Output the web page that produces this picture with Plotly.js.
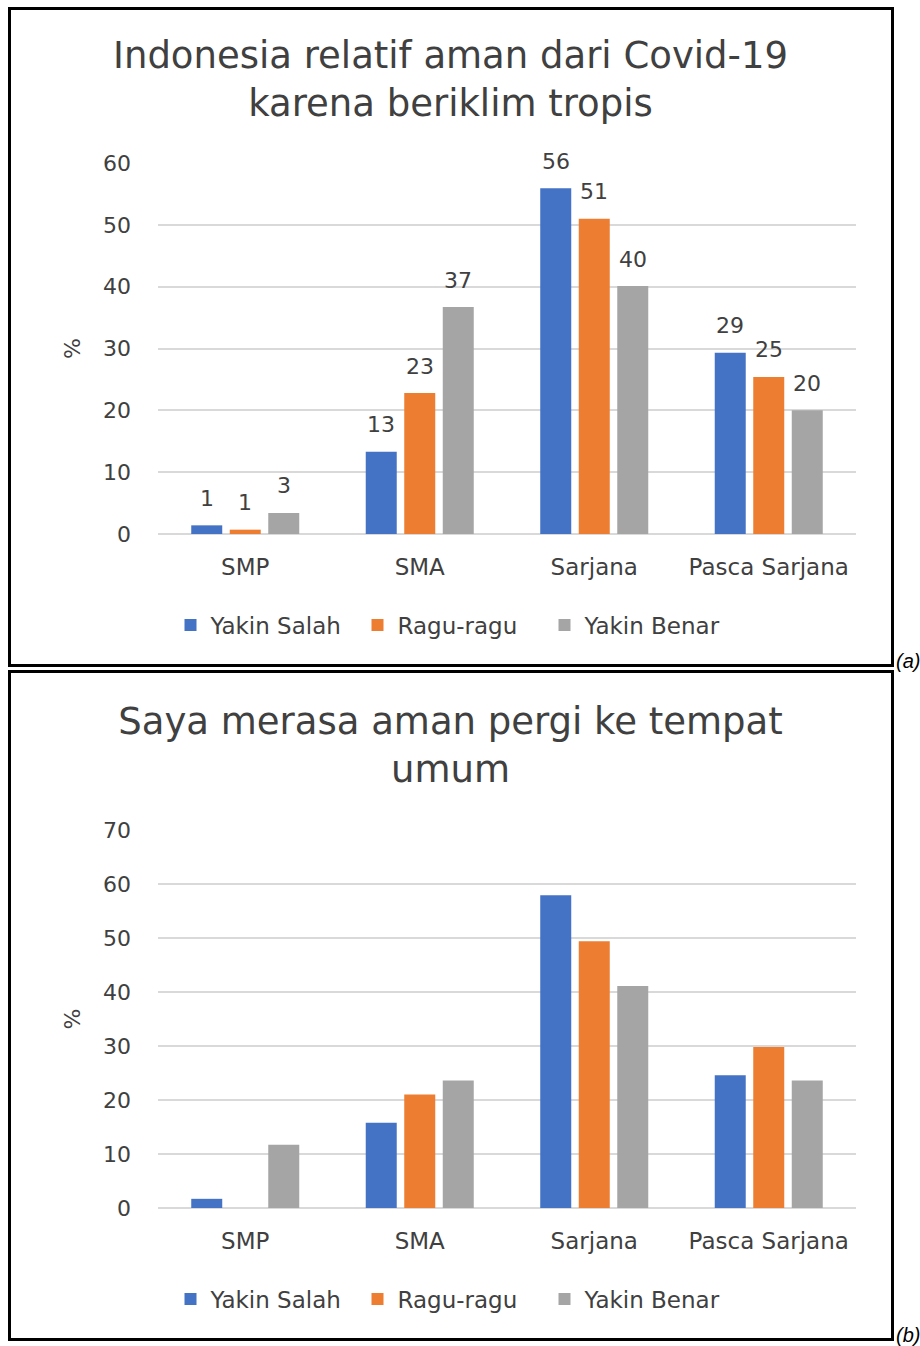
<!DOCTYPE html>
<html>
<head>
<meta charset="utf-8">
<script src="https://cdn.plot.ly/plotly-3.0.1.min.js"></script>
<style>
  html, body { margin: 0; padding: 0; background: #fff; }
  #wrap { position: relative; width: 920px; height: 1346px; overflow: hidden; }
  .chart { position: absolute; left: 0; width: 920px; }
  .box { position: absolute; border: 3px solid #000; box-sizing: border-box; pointer-events: none; }
</style>
</head>
<body>
<div id="wrap">
  <div id="chartA" class="chart" style="top:0px;height:680px;"></div>
  <div id="chartB" class="chart" style="top:670px;height:676px;"></div>
  <div class="box" style="left:8px;top:7px;width:886px;height:660px;"></div>
  <div class="box" style="left:8px;top:670px;width:886px;height:671px;"></div>
</div>
<script>
// ---------- data ----------
const categories = ["SMP", "SMA", "Sarjana", "Pasca Sarjana"];
const seriesNames = ["Yakin Salah", "Ragu-ragu", "Yakin Benar"];
const seriesColors = ["#4472C4", "#ED7D31", "#A5A5A5"];

const titleA = "Indonesia relatif aman dari Covid-19<br>karena beriklim tropis";
const yakinSalahA = [1.4, 13.3, 55.9, 29.3];
const raguRaguA   = [0.7, 22.8, 51.0, 25.4];
const yakinBenarA = [3.4, 36.7, 40.1, 20.0];
const yTicksA = [0, 10, 20, 30, 40, 50, 60];

const titleB = "Saya merasa aman pergi ke tempat<br>umum";
const yakinSalahB = [1.7, 15.8, 57.9, 24.6];
const raguRaguB   = [0, 21.0, 49.4, 29.8];
const yakinBenarB = [11.7, 23.6, 41.1, 23.6];
const yTicksB = [0, 10, 20, 30, 40, 50, 60, 70];

const panelLabels = ["(a)", "(b)"];

// ---------- style ----------
const FONT = "DejaVu Sans, Verdana, sans-serif";
const TXT = "#404040";
const GRID = "#D9D9D9";
const BARGAP = 0.338, GROUPGAP = 0.195;

function makeChart(div, height, marginT, marginB, title, series, yTicks, showLabels, panelLabel, titleTop, panelY) {
  const W = 920, L = 158, R = 64;
  const plotW = W - L - R;
  const plotH = height - marginT - marginB;
  const axisY = height - marginB;
  const catPx = plotW / categories.length;
  const slotPx = catPx * (1 - BARGAP) / series.length;

  const traces = series.map((vals, i) => ({
    type: "bar",
    name: seriesNames[i],
    x: categories,
    y: vals,
    marker: { color: seriesColors[i] },
    hoverinfo: "x+y+name"
  }));

  const annotations = [];
  if (showLabels) {
    series.forEach((vals, i) => {
      vals.forEach((v, j) => {
        annotations.push({
          x: categories[j], y: v, xref: "x", yref: "y",
          text: String(Math.round(v)),
          showarrow: false,
          xshift: (i - (series.length - 1) / 2) * slotPx,
          yshift: 27,
          xanchor: "center", yanchor: "middle",
          font: { family: FONT, size: 22, color: TXT }
        });
      });
    });
  }
  // panel label (a)/(b) just outside the box, bottom right
  annotations.push({
    xref: "paper", yref: "paper",
    x: (894 - L) / plotW, y: -(panelY - axisY) / plotH,
    text: "<i>" + panelLabel + "</i>",
    showarrow: false, xanchor: "left", yanchor: "middle",
    font: { family: "Liberation Sans, Arial, sans-serif", size: 20, color: "#000" }
  });

  const yMax = yTicks[yTicks.length - 1];
  const layout = {
    width: W, height: height,
    margin: { l: L, r: R, t: marginT, b: marginB, pad: 0 },
    paper_bgcolor: "rgba(0,0,0,0)",
    plot_bgcolor: "rgba(0,0,0,0)",
    barmode: "group",
    bargap: BARGAP,
    bargroupgap: GROUPGAP,
    title: {
      text: title,
      x: (8 + 893) / 2 / W, xanchor: "center",
      y: 1 - titleTop / height, yanchor: "top", yref: "container",
      font: { family: FONT, size: 37, color: TXT }
    },
    showlegend: true,
    legend: {
      orientation: "h",
      x: (451 - L) / plotW, xanchor: "center",
      y: -91 / plotH, yanchor: "middle",
      font: { family: FONT, size: 23, color: TXT },
      entrywidth: 142, entrywidthmode: "pixels",
      traceorder: "normal",
      itemclick: false, itemdoubleclick: false
    },
    xaxis: {
      type: "category",
      showgrid: false,
      showline: false,
      zeroline: false,
      ticks: "",
      ticklabelstandoff: 17,
      tickfont: { family: FONT, size: 23, color: TXT },
      fixedrange: true
    },
    yaxis: {
      range: [0, yMax],
      tickvals: yTicks,
      ticktext: yTicks.map(String),
      showgrid: true,
      gridcolor: GRID,
      gridwidth: 2,
      zeroline: true,
      zerolinecolor: GRID,
      zerolinewidth: 2,
      showline: false,
      ticks: "",
      ticklabelstandoff: 26,
      tickfont: { family: FONT, size: 22, color: TXT },
      title: { text: "%", standoff: 16, font: { family: FONT, size: 22, color: TXT } },
      automargin: false,
      fixedrange: true
    },
    annotations: annotations
  };
  Plotly.newPlot(div, traces, layout, { displayModeBar: false });
}

makeChart("chartA", 680, 163, 146, titleA, [yakinSalahA, raguRaguA, yakinBenarA], yTicksA, true, panelLabels[0], 68, 661);
makeChart("chartB", 676, 160, 138, titleB, [yakinSalahB, raguRaguB, yakinBenarB], yTicksB, false, panelLabels[1], 64, 665);
</script>
</body>
</html>
